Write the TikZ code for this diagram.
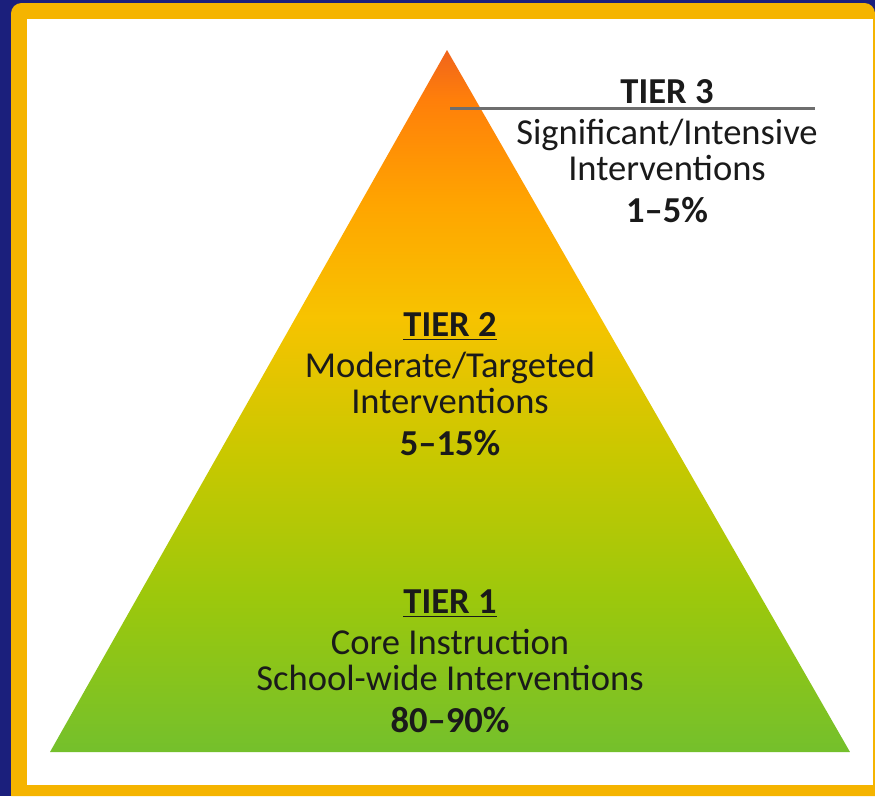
\documentclass[tikz,border=0pt]{standalone}
\usepackage{fontspec}
\setmainfont{Carlito}
\definecolor{navy}{HTML}{1B1F7C}
\definecolor{frame}{HTML}{F5B400}
\definecolor{ink}{HTML}{1A1A1A}
\definecolor{rule}{HTML}{6E6E6E}
\definecolor{tgreen}{HTML}{74C02C}
\definecolor{tlime}{HTML}{9CC80C}
\definecolor{tolive}{HTML}{C8C800}
\definecolor{tyellow}{HTML}{F7C300}
\definecolor{tamber}{HTML}{FFA500}
\definecolor{torange}{HTML}{FF7F0A}
\definecolor{tred}{HTML}{F0641C}
% bottom of the pyramid sits at 25bp, the apex at 75bp
\pgfdeclareverticalshading{tiers}{100bp}{%
  color(0bp)=(tgreen); color(25bp)=(tgreen); color(36bp)=(tlime);
  color(46bp)=(tolive); color(56bp)=(tyellow); color(64bp)=(tamber);
  color(71.5bp)=(torange); color(75bp)=(tred); color(100bp)=(tred)}
\tikzset{
  tier/.style={align=center, text=ink, inner sep=0pt,
               font=\fontsize{20.8}{20.5}\selectfont},
}

\begin{document}
\begin{tikzpicture}[x=0.02cm, y=-0.02cm]
\useasboundingbox (0,0) rectangle (875,796);
% backdrop and frame
\fill[navy] (0,0) rectangle (875,796);
\fill[frame] (875,796) -- (11,796) [rounded corners=6pt] -- (11,3) -- (875,3) [sharp corners] -- cycle;
\fill[white] (27,19) rectangle (873,785);

% pyramid
\coordinate (apex) at (447,50);
\coordinate (bl) at (50,752);
\coordinate (br) at (850,752);
\shade[shading=tiers] (bl) -- (apex) -- (br) -- cycle;

\draw[rule, line width=1.7pt] (450,108) -- (815,108);

\node[tier] (t3) at (667,151) {\textbf{TIER 3}\\[3pt]Significant/Intensive\\Interventions\\[3pt]\textbf{1–5\%}};
\node[tier] (t2) at (450,384) {\textbf{\underline{TIER 2}}\\[3pt]Moderate/Targeted\\Interventions\\[3pt]\textbf{5–15\%}};
\node[tier] (t1) at (450,661) {\textbf{\underline{TIER 1}}\\[3pt]Core Instruction\\School-wide Interventions\\[3pt]\textbf{80–90\%}};
\end{tikzpicture}
\end{document}
